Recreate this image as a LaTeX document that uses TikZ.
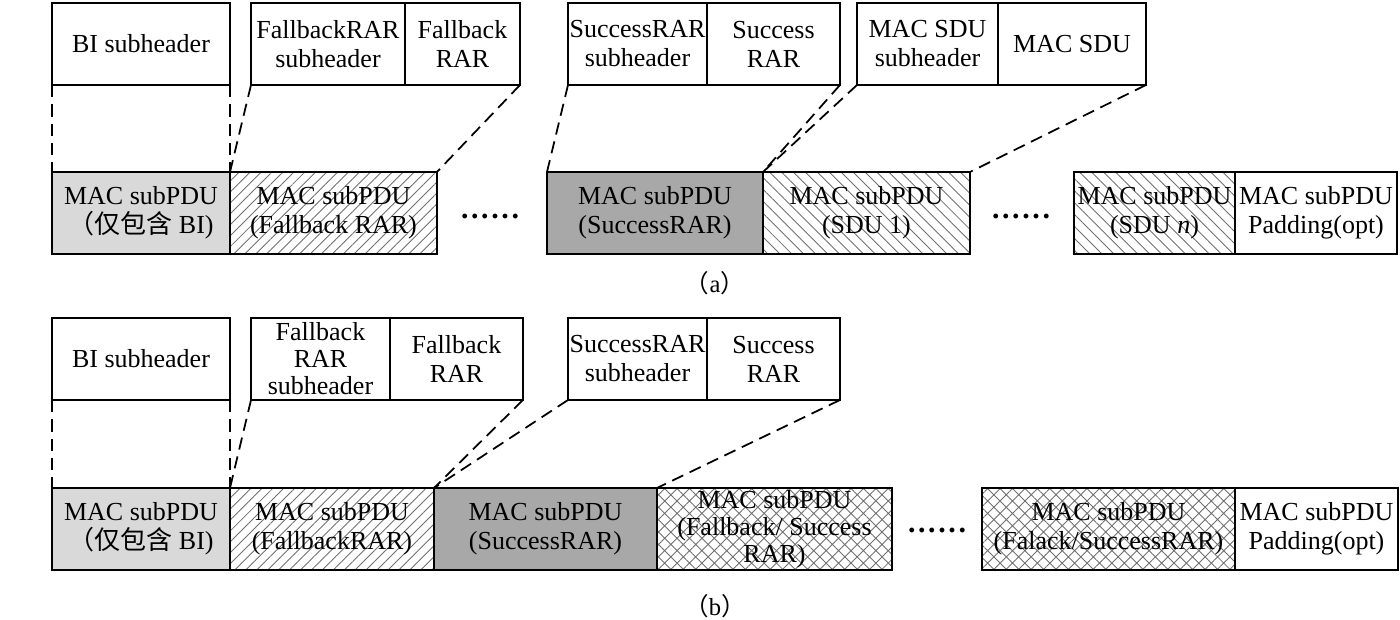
\documentclass[tikz,border=0pt]{standalone}
\usepackage{fontspec}
\setmainfont{Liberation Serif}
\newfontfamily\cjk{Noto Sans CJK SC}
\usetikzlibrary{patterns.meta}

\definecolor{lightfill}{HTML}{D9D9D9}
\definecolor{darkfill}{HTML}{A8A8A8}
\definecolor{hatchcol}{HTML}{707070}

\newcommand{\gapdots}{.\kern1.5pt.\kern1.5pt.\kern1.5pt.\kern1.5pt.\kern1.5pt.}

\begin{document}
\begin{tikzpicture}[x=0.02cm, y=-0.02cm,
    cell/.style={draw, line width=1pt, inner sep=0pt, outer sep=0pt, anchor=north west,
        minimum height=1.64cm, align=center, font=\fontsize{14.8}{16.5}\selectfont},
    tight/.style={font=\fontsize{14.8}{15.4}\selectfont},
    hatchne/.style={pattern={Lines[angle=45, distance=4.4pt, line width=0.5pt]}, pattern color=hatchcol},
    hatchnw/.style={pattern={Lines[angle=-45, distance=4.8pt, line width=0.5pt]}, pattern color=hatchcol},
    cross/.style={pattern={Hatch[angle=45, distance=5pt, line width=0.5pt]}, pattern color=hatchcol},
    link/.style={line width=1pt, dash pattern=on 7pt off 4pt},
    dots/.style={inner sep=0pt, font=\fontsize{17}{17}\bfseries},
    caption/.style={font=\fontsize{14}{16}\selectfont}]

\useasboundingbox (0,0) rectangle (1400,619);

% (a)
\node[cell, minimum width=3.56cm] (ta1) at (52,3) {BI subheader};
\node[cell, minimum width=3.08cm] (ta2) at (251,3) {FallbackRAR\\subheader};
\node[cell, minimum width=2.30cm] (ta3) at (405,3) {Fallback\\RAR};
\node[cell, minimum width=2.78cm] (ta4) at (568,3) {SuccessRAR\\subheader};
\node[cell, minimum width=2.66cm] (ta5) at (707,3) {Success\\RAR};
\node[cell, minimum width=2.82cm] (ta6) at (857,3) {MAC SDU\\subheader};
\node[cell, minimum width=2.96cm] (ta7) at (998,3) {MAC SDU};

\node[cell, fill=lightfill, minimum width=3.56cm] (ba1) at (52,172) {MAC subPDU\\{\cjk （仅包含} BI)};
\node[cell, hatchne, minimum width=4.14cm] (ba2) at (230,172) {MAC subPDU\\(Fallback RAR)};
\node[dots] (dotsa1) at (490,216) {\gapdots};
\node[cell, fill=darkfill, minimum width=4.32cm] (ba3) at (547,172) {MAC subPDU\\(SuccessRAR)};
\node[cell, hatchnw, minimum width=4.14cm] (ba4) at (763,172) {MAC subPDU\\(SDU 1)};
\node[dots] (dotsa2) at (1021,216) {\gapdots};
\node[cell, hatchnw, minimum width=3.22cm] (ba5) at (1074,172) {MAC subPDU\\(SDU \textit{n})};
\node[cell, minimum width=3.24cm] (ba6) at (1235,172) {MAC subPDU\\Padding(opt)};

\node[caption] (capa) at (715,283) {{\cjk （}a{\cjk ）}};

\foreach \u/\v in {ta1.south west/ba1.north west, ta1.south east/ba1.north east,
    ta2.south west/ba2.north west, ta3.south east/ba2.north east,
    ta4.south west/ba3.north west, ta5.south east/ba3.north east,
    ta6.south west/ba4.north west, ta7.south east/ba4.north east} {
    \draw[link] (\u) -- (\v);
}

% (b)
\node[cell, minimum width=3.56cm] (tb1) at (52,318) {BI subheader};
\node[cell, tight, minimum width=2.78cm] (tb2) at (251,318) {Fallback\\RAR\\subheader};
\node[cell, minimum width=2.66cm] (tb3) at (390,318) {Fallback\\RAR};
\node[cell, minimum width=2.78cm] (tb4) at (568,318) {SuccessRAR\\subheader};
\node[cell, minimum width=2.66cm] (tb5) at (707,318) {Success\\RAR};

\node[cell, fill=lightfill, minimum width=3.56cm] (bb1) at (52,488) {MAC subPDU\\{\cjk （仅包含} BI)};
\node[cell, hatchne, minimum width=4.08cm] (bb2) at (230,488) {MAC subPDU\\(FallbackRAR)};
\node[cell, fill=darkfill, minimum width=4.46cm] (bb3) at (434,488) {MAC subPDU\\(SuccessRAR)};
\node[cell, cross, tight, minimum width=4.70cm] (bb4) at (657,488) {MAC subPDU\\(Fallback/ Success\\RAR)};
\node[dots] (dotsb) at (937,530) {\gapdots};
\node[cell, cross, minimum width=5.06cm] (bb5) at (982,488) {MAC subPDU\\(Falack/SuccessRAR)};
\node[cell, minimum width=3.26cm] (bb6) at (1235,488) {MAC subPDU\\Padding(opt)};

\node[caption] (capb) at (715,606) {{\cjk （}b{\cjk ）}};

\foreach \u/\v in {tb1.south west/bb1.north west, tb1.south east/bb1.north east,
    tb2.south west/bb2.north west, tb3.south east/bb2.north east,
    tb4.south west/bb3.north west, tb5.south east/bb3.north east} {
    \draw[link] (\u) -- (\v);
}

\end{tikzpicture}
\end{document}
